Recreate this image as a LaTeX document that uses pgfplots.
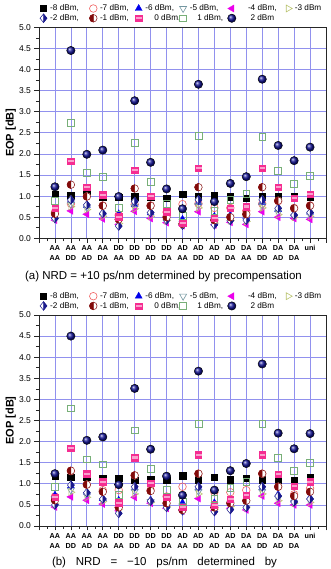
\documentclass[border=0pt]{standalone}
\usepackage{fontspec}
\setmainfont{Liberation Sans}
\usepackage{pgfplots}
\pgfplotsset{compat=1.18}
\usepackage{pgfplotstable}

\definecolor{gridc}{RGB}{145,145,238}
\definecolor{cRed}{RGB}{240,95,95}
\definecolor{cBlue}{RGB}{0,0,235}
\definecolor{cGray}{RGB}{115,150,160}
\definecolor{cMag}{RGB}{235,0,235}
\definecolor{cOlive}{RGB}{185,195,110}
\definecolor{cNavy}{RGB}{25,25,140}
\definecolor{cMaroon}{RGB}{130,10,10}
\definecolor{cPink}{RGB}{245,45,145}
\definecolor{cGreen}{RGB}{120,175,120}
\definecolor{cBall}{RGB}{20,20,150}

% EOP per configuration (x = 1..17) and launch power
\pgfplotstableread{
x  m8   m7   m6   m5   m4   m3   m2   m1   p0   p1   p2
1  1.05 0.62 0.52 0.55 0.43 0.48 0.47 0.58 0.71 0.89 1.22
2  1.01 0.82 0.90 0.80 0.65 0.75 0.91 1.27 1.83 2.74 4.45
3  1.07 0.99 0.78 0.72 0.57 0.68 0.79 0.99 1.21 1.56 1.99
4  0.99 0.78 0.60 0.55 0.46 0.52 0.59 0.77 1.03 1.45 2.09
5  0.98 0.55 0.58 0.48 0.33 0.35 0.29 0.45 0.51 0.72 0.99
6  0.99 0.80 0.80 0.75 0.64 0.70 0.87 1.18 1.62 2.27 3.26
7  0.99 0.78 0.60 0.56 0.47 0.52 0.61 0.77 1.00 1.33 1.80
8  0.95 0.62 0.50 0.48 0.37 0.42 0.43 0.50 0.63 0.81 1.17
9  1.05 0.81 0.45 0.40 0.30 0.33 0.31 0.34 0.36 0.53 0.70
10 1.00 0.82 0.85 0.78 0.63 0.72 0.91 1.21 1.66 2.42 3.65
11 1.01 0.72 0.52 0.48 0.32 0.36 0.32 0.43 0.47 0.66 0.87
12 0.99 0.72 0.55 0.50 0.38 0.42 0.42 0.50 0.71 0.91 1.30
13 0.95 0.65 0.52 0.48 0.33 0.40 0.43 0.57 0.75 1.05 1.46
14 0.99 0.82 0.85 0.78 0.63 0.72 0.91 1.21 1.66 2.41 3.77
15 0.99 0.88 0.68 0.62 0.50 0.56 0.71 0.89 1.21 1.60 2.20
16 1.00 0.72 0.58 0.52 0.47 0.50 0.55 0.71 0.95 1.30 1.84
17 0.99 0.78 0.62 0.56 0.45 0.52 0.61 0.77 1.05 1.48 2.16
}\dataA

\pgfplotstableread{
x  m8   m7   m6   m5   m4   m3   m2   m1   p0   p1   p2
1  1.18 0.70 0.73 0.62 0.45 0.52 0.50 0.61 0.68 0.93 1.24
2  1.15 1.30 0.95 0.85 0.69 0.80 0.97 1.31 1.85 2.79 4.50
3  1.15 0.98 0.80 0.72 0.61 0.68 0.79 0.98 1.24 1.58 2.03
4  1.13 0.85 0.65 0.60 0.52 0.58 0.64 0.81 1.05 1.46 2.11
5  1.13 0.85 0.61 0.50 0.36 0.40 0.30 0.44 0.55 0.73 0.98
6  1.09 1.20 0.90 0.82 0.68 0.76 0.93 1.20 1.62 2.27 3.26
7  1.10 0.85 0.62 0.58 0.54 0.56 0.59 0.83 1.02 1.36 1.82
8  1.09 0.70 0.55 0.50 0.42 0.46 0.44 0.54 0.68 0.85 1.18
9  1.19 0.93 0.55 0.48 0.36 0.40 0.36 0.38 0.44 0.57 0.73
10 1.10 1.24 0.90 0.82 0.65 0.76 0.93 1.24 1.69 2.43 3.67
11 1.15 0.80 0.55 0.50 0.36 0.40 0.34 0.44 0.50 0.64 0.85
12 1.10 0.80 0.60 0.54 0.42 0.46 0.39 0.54 0.64 0.91 1.31
13 1.13 0.85 0.62 0.55 0.38 0.45 0.44 0.60 0.73 1.05 1.48
14 1.10 1.24 0.90 0.82 0.71 0.76 0.93 1.24 1.69 2.42 3.84
15 1.09 0.93 0.75 0.66 0.54 0.60 0.71 0.93 1.23 1.62 2.20
16 1.09 0.75 0.62 0.56 0.50 0.54 0.57 0.71 0.94 1.31 1.83
17 1.15 0.89 0.68 0.60 0.50 0.56 0.64 0.81 1.05 1.50 2.19
}\dataB

% half-filled and shaded markers
\pgfdeclareplotmark{halfdiamond}{%
  \fill[white] (0pt,\pgfplotmarksize) -- (0.8\pgfplotmarksize,0pt) -- (0pt,-\pgfplotmarksize) -- (-0.8\pgfplotmarksize,0pt) -- cycle;
  \fill[cNavy] (0pt,\pgfplotmarksize) -- (0.8\pgfplotmarksize,0pt) -- (0pt,-\pgfplotmarksize) -- cycle;
  \draw[cNavy,line width=0.5pt] (0pt,\pgfplotmarksize) -- (0.8\pgfplotmarksize,0pt) -- (0pt,-\pgfplotmarksize) -- (-0.8\pgfplotmarksize,0pt) -- cycle;
}
\pgfdeclareplotmark{halfcircle}{%
  \fill[white] (0pt,0pt) circle (\pgfplotmarksize);
  \fill[cMaroon] (0pt,\pgfplotmarksize) arc[start angle=90,end angle=270,radius=\pgfplotmarksize] -- cycle;
  \draw[cMaroon,line width=0.5pt] (0pt,0pt) circle (\pgfplotmarksize);
}
\pgfdeclareplotmark{pinksquare}{%
  \fill[cPink] (-\pgfplotmarksize,-\pgfplotmarksize) rectangle (\pgfplotmarksize,\pgfplotmarksize);
  \fill[white!55!cPink] (-0.75\pgfplotmarksize,-0.05\pgfplotmarksize) rectangle (0.75\pgfplotmarksize,0.3\pgfplotmarksize);
}
\pgfdeclareplotmark{ball}{%
  \shade[ball color=cBall] (0pt,0pt) circle (\pgfplotmarksize);
}

\pgfplotsset{
  % legend image: one mark centred in a 9pt wide cell
  lgmark/.style={legend image code/.code={%
    \draw[##1] plot coordinates {(0pt,0pt)};
    \path (-4.5pt,0pt) (4.5pt,0pt);}},
  s8/.style={only marks, mark=square*, mark size=3.2pt, draw=black, fill=black, lgmark},
  s7/.style={only marks, mark=o, mark size=3.8pt, draw=cRed, mark options={line width=0.6pt, fill=white}, lgmark},
  s6/.style={only marks, mark=triangle*, mark size=4pt, draw=cBlue, fill=cBlue, lgmark},
  s5/.style={only marks, mark=triangle, mark size=4pt, draw=cGray, mark options={rotate=180, line width=0.6pt, fill=white}, lgmark},
  s4/.style={only marks, mark=triangle*, mark size=4pt, draw=cMag, fill=cMag, mark options={rotate=90}, lgmark},
  s3/.style={only marks, mark=triangle, mark size=4pt, draw=cOlive, mark options={rotate=-90, line width=0.6pt, fill=white}, lgmark},
  s2/.style={only marks, mark=halfdiamond, mark size=4.3pt, lgmark},
  s1/.style={only marks, mark=halfcircle, mark size=3.8pt, lgmark},
  s0/.style={only marks, mark=pinksquare, mark size=3.2pt, lgmark},
  p1/.style={only marks, mark=square, mark size=3.4pt, draw=cGreen, mark options={line width=0.6pt, fill=white}, lgmark},
  p2/.style={only marks, mark=ball, mark size=4.2pt, lgmark},
  eopaxis/.style={
    scale only axis, width=287pt, height=211pt,
    xmin=0, xmax=18, ymin=0, ymax=5,
    xtick={0,...,18},
    xticklabels={,AA\\AA,AA\\DD,AA\\AD,AA\\DA,DD\\AA,DD\\DD,DD\\AD,DD\\DA,AD\\AA,AD\\DD,AD\\AD,AD\\DA,DA\\AA,DA\\DD,DA\\AD,DA\\DA,uni,},
    minor x tick num=1,
    ytick={0,0.5,...,5},
    minor y tick num=1,
    xtick pos=bottom, ytick pos=left,
    tick align=outside,
    major tick length=4.5pt, minor tick length=3pt,
    grid=major,
    major grid style={gridc, line width=0.7pt},
    axis line style={black!85, line width=0.7pt},
    tick style={black!85, line width=0.6pt},
    /pgf/number format/assume math mode=true,
    yticklabel style={font=\fontsize{8.5}{9}\selectfont, /pgf/number format/.cd, fixed, fixed zerofill, precision=1},
    xticklabel style={font=\bfseries\fontsize{7.2}{10}\selectfont, align=center, inner sep=1pt, yshift=-1.5pt},
    ylabel={EOP [dB]},
    every axis y label/.style={at={(axis description cs:-0.098,0.5)}, rotate=90, anchor=center, font=\bfseries\fontsize{11}{12}\selectfont},
    legend columns=6,
    legend cell align=left,
    legend style={draw=none, fill=none, inner sep=0pt, outer sep=0pt,
      at={(axis description cs:0,1)}, anchor=south west,
      xshift=-0.2pt, yshift=4.5pt, font=\fontsize{8.2}{9}\selectfont,
      row sep=1.2pt, nodes={inner sep=0pt},
      /tikz/every odd column/.style={column sep=2pt},
      /tikz/every even column/.style={column sep=0pt}},
  },
}

% legend text cell of fixed width, with an optional lead-in space
\newcommand\lgbox[3]{\makebox[#1][l]{\hspace*{#2}#3}}
\newcommand\eopseries[1]{%
  \addplot[s8] table[x=x,y=m8]{#1}; \addlegendentry{\lgbox{38.4pt}{0pt}{-8 dBm,}}
  \addplot[s7] table[x=x,y=m7]{#1}; \addlegendentry{\lgbox{34pt}{0pt}{-7 dBm,}}
  \addplot[s6] table[x=x,y=m6]{#1}; \addlegendentry{\lgbox{33pt}{0pt}{-6 dBm,}}
  \addplot[s5] table[x=x,y=m5]{#1}; \addlegendentry{\lgbox{37.3pt}{0pt}{-5 dBm,}}
  \addplot[s4] table[x=x,y=m4]{#1}; \addlegendentry{\lgbox{45pt}{9.5pt}{-4 dBm,}}
  \addplot[s3] table[x=x,y=m3]{#1}; \addlegendentry{\lgbox{30pt}{0pt}{-3 dBm}}
  \addplot[s2] table[x=x,y=m2]{#1}; \addlegendentry{\lgbox{38.4pt}{0pt}{-2 dBm,}}
  \addplot[s1] table[x=x,y=m1]{#1}; \addlegendentry{\lgbox{34pt}{0pt}{-1 dBm,}}
  \addplot[s0] table[x=x,y=p0]{#1}; \addlegendentry{\lgbox{33pt}{9pt}{0 dBm,}}
  \addplot[p1] table[x=x,y=p1]{#1}; \addlegendentry{\lgbox{37.3pt}{7.5pt}{1 dBm,}}
  \addplot[p2] table[x=x,y=p2]{#1}; \addlegendentry{\lgbox{45pt}{12pt}{2 dBm}}
}

\begin{document}
\begin{tikzpicture}[x=1pt,y=1pt]
\useasboundingbox (0,0) rectangle (331,569);

\begin{axis}[eopaxis, at={(39pt,330.7pt)}, anchor=south west]
  \eopseries{\dataA}
\end{axis}
\node[font=\fontsize{11.5}{13}\selectfont, inner sep=0pt] at (163.5,292) {(a) NRD = +10 ps/nm determined by precompensation};

\begin{axis}[eopaxis, at={(39pt,43pt)}, anchor=south west]
  \eopseries{\dataB}
\end{axis}
\node[font=\fontsize{11.5}{13}\selectfont, inner sep=0pt, anchor=south] at (164.5,0.6) {\makebox[225pt][s]{(b) NRD = −10 ps/nm determined by}};
\end{tikzpicture}
\end{document}
